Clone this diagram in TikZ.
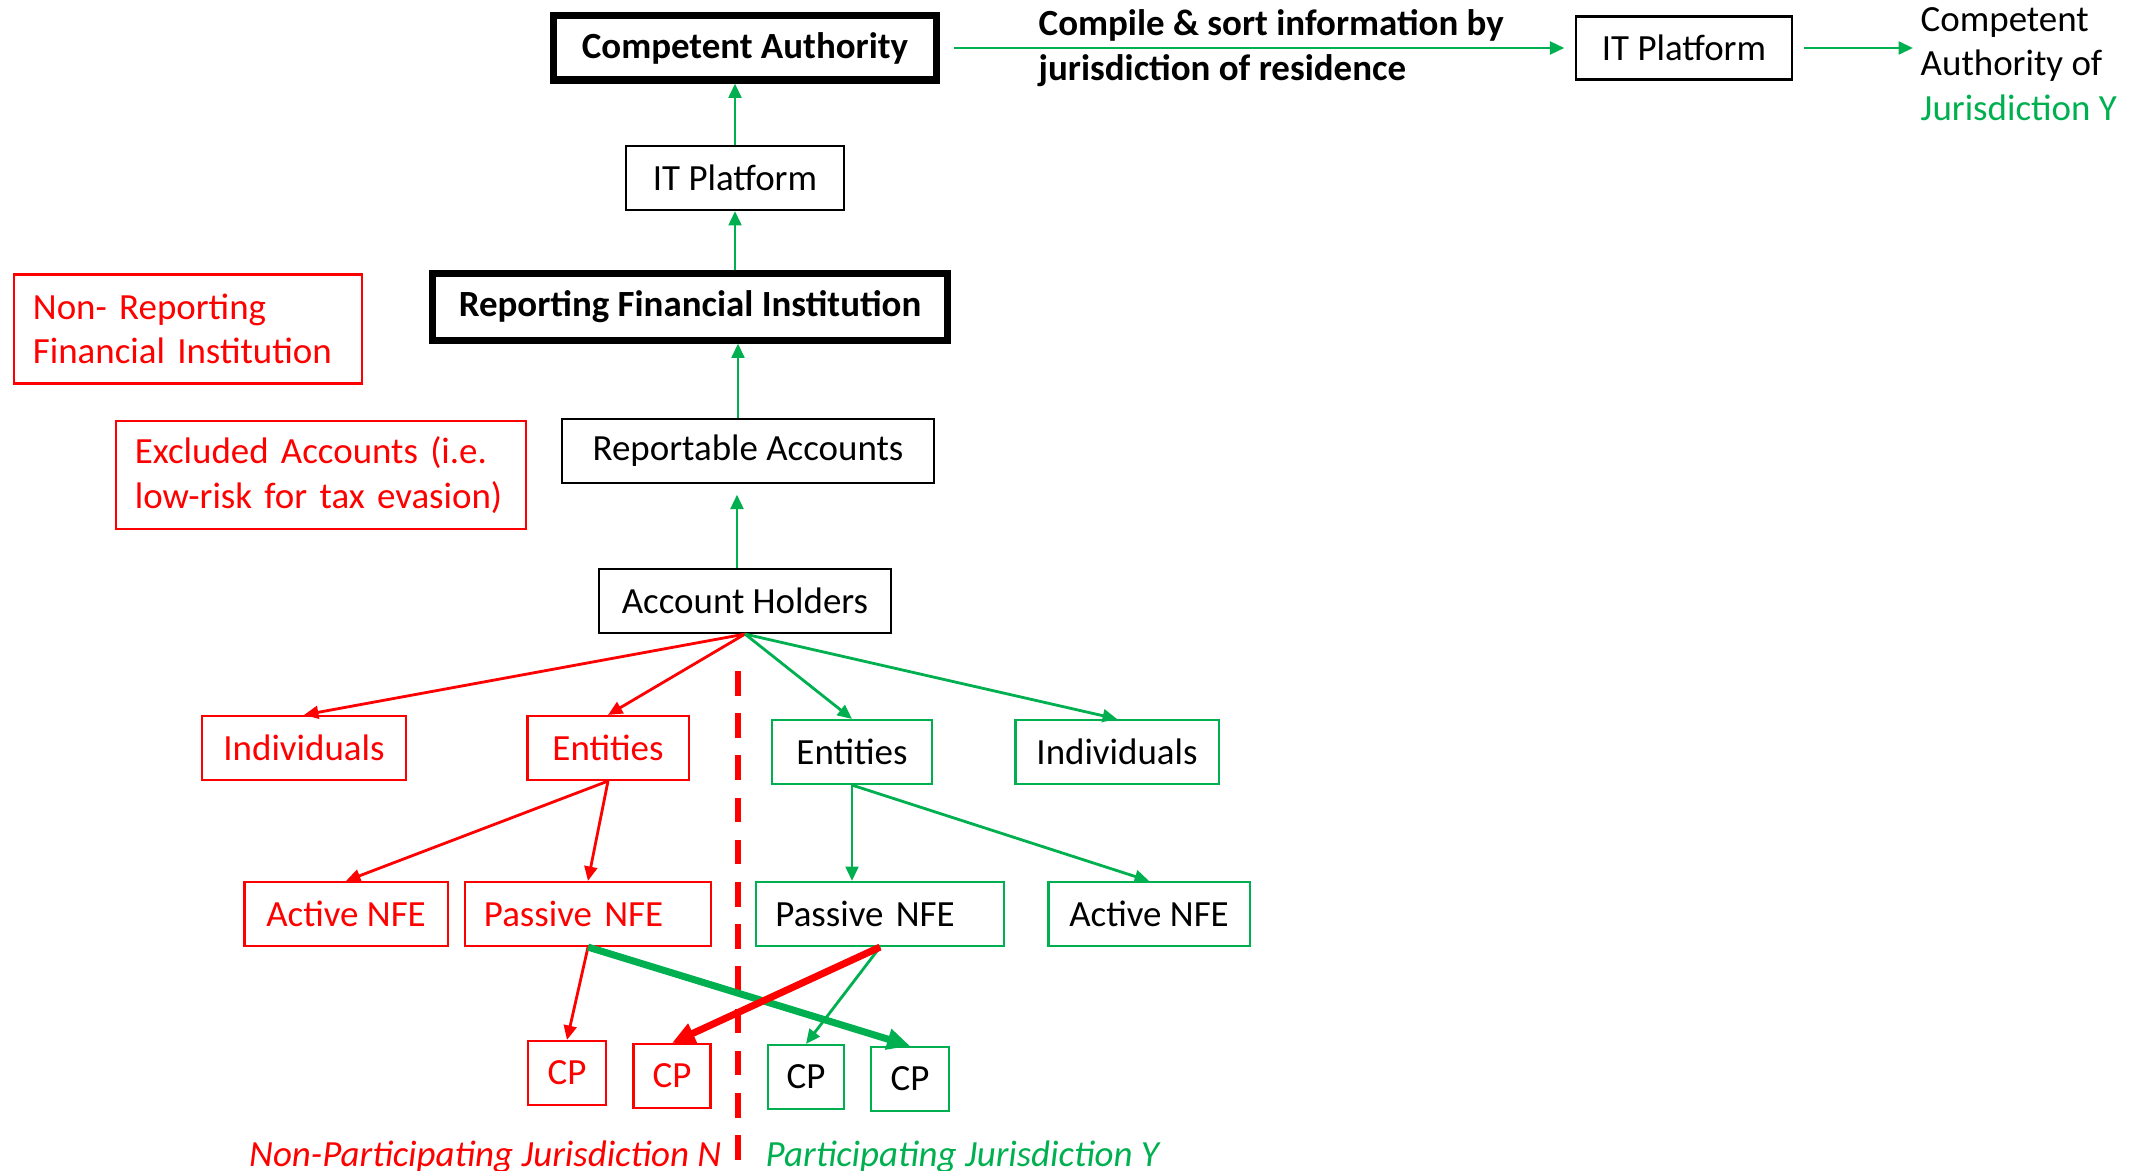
\documentclass[tikz,border=0pt]{standalone}
\usepackage{fontspec}
\setmainfont{Carlito}
\usepackage{tikz}
\usetikzlibrary{arrows.meta}

\definecolor{myred}{RGB}{255,0,0}
\definecolor{mygreen}{RGB}{0,176,80}
\newcommand{\diagfont}{\fontsize{10.5}{12.6}\selectfont}

\begin{document}
\begin{tikzpicture}[x=0.01cm,y=-0.01cm,
    every node/.style={font=\diagfont},
    >={Triangle[length=2.5pt 2,width=2.2pt 1.8]},
    nodebox/.style={draw,line width=0.6pt,minimum height=0.64cm,inner sep=0pt},
    keybox/.style={nodebox,line width=2pt,font=\diagfont\bfseries},
    redbox/.style={nodebox,draw=myred,text=myred},
    greenbox/.style={nodebox,draw=mygreen},
    leftbox/.style={align=left,inner xsep=0.19cm,text width=#1},
    link/.style={->,line width=0.8pt},
    crosslink/.style={->,line width=2pt}]
          \useasboundingbox (0,0) rectangle (2134,1170);

          % reporting chain
          \node[keybox,minimum width=3.82cm] (compauth) at (745,48) {Competent Authority};
          \node[nodebox,minimum width=2.18cm] (itplat) at (735,178) {IT Platform};
          \node[keybox,minimum width=5.14cm,minimum height=0.66cm] (rfi) at (690,307) {Reporting Financial Institution};
          \node[nodebox,minimum width=3.72cm] (repacc) at (748,451) {Reportable Accounts};
          \node[nodebox,minimum width=2.92cm] (accholders) at (745,601) {Account Holders};
          \node[redbox,leftbox=3.10cm,minimum height=1.09cm] (nonrfi) at (188,329) {Non- Reporting\\Financial Institution};
          \node[redbox,leftbox=3.72cm,minimum height=1.08cm] (exclacc) at (321,475) {Excluded Accounts (i.e.\\low-risk for tax evasion)};

          % exchange
          \node[anchor=west,inner sep=0pt,align=left,font=\diagfont\bfseries] (compile) at (1038,48) {Compile \& sort information by\\jurisdiction of residence};
          \node[nodebox,minimum width=2.16cm,minimum height=0.63cm] (itplatY) at (1684,48) {IT Platform};
          \node[anchor=west,inner sep=0pt,align=left] (compauthY) at (1920,64) {Competent\\Authority of\\\textcolor{mygreen}{Jurisdiction Y}};

          % account holders
          \node[redbox,minimum width=2.03cm] (indivN) at (304,748) {Individuals};
          \node[redbox,minimum width=1.61cm] (entN) at (608,748) {Entities};
          \node[greenbox,minimum width=1.60cm] (entY) at (852,752) {Entities};
          \node[greenbox,minimum width=2.03cm] (indivY) at (1117,752) {Individuals};

          \node[redbox,minimum width=2.03cm] (activeN) at (346,914) {Active NFE};
          \node[redbox,leftbox=2.08cm] (passiveN) at (588,914) {Passive NFE};
          \node[greenbox,leftbox=2.09cm] (passiveY) at (880,914) {Passive NFE};
          \node[greenbox,minimum width=2.01cm] (activeY) at (1149,914) {Active NFE};

          \node[redbox,minimum width=0.78cm] (cpNa) at (567,1073) {CP};
          \node[redbox,minimum width=0.77cm] (cpNb) at (672,1076) {CP};
          \node[greenbox,minimum width=0.76cm] (cpYa) at (806,1077) {CP};
          \node[greenbox,minimum width=0.78cm] (cpYb) at (910,1079) {CP};

          \node[anchor=base east,inner sep=0pt,text=myred,font=\diagfont\itshape] (labelN) at (722,1166) {Non-Participating Jurisdiction N};
          \node[anchor=base west,inner sep=0pt,text=mygreen,font=\diagfont\itshape] (labelY) at (765,1166) {Participating Jurisdiction Y};

          % border between jurisdictions
          \coordinate (bordertop) at (738,671);
          \coordinate (borderbot) at (738,1170);
          \draw[myred,line width=1.6pt,dash pattern=on 7pt off 5pt] (bordertop) -- (borderbot);

          % arrows
          \draw[link,mygreen] (itplat.north) -- (itplat.north |- compauth.south);
          \draw[link,mygreen] (itplat.south |- rfi.north) -- (itplat.south);
          \draw[link,mygreen] ([xshift=-0.1cm]repacc.north) -- ([xshift=-0.1cm]repacc.north |- rfi.south);
          \draw[link,mygreen,shorten >=3pt] ([xshift=-0.08cm]accholders.north) -- ([xshift=-0.08cm]accholders.north |- repacc.south);
          \draw[link,mygreen,shorten <=4pt,shorten >=3pt] (compauth.east) -- (itplatY.west);
          \draw[link,mygreen,shorten <=3pt,shorten >=2pt] (itplatY.east) -- (itplatY.east -| compauthY.west);

          \draw[link,myred] (accholders.south) -- (indivN.north);
          \draw[link,myred] (accholders.south) -- (entN.north);
          \draw[link,mygreen] (accholders.south) -- (entY.north);
          \draw[link,mygreen] (accholders.south) -- (indivY.north);

          \draw[link,myred] (entN.south) -- (activeN.north);
          \draw[link,myred] (entN.south) -- (passiveN.north);
          \draw[link,mygreen] (entY.south) -- (entY.south |- passiveY.north);
          \draw[link,mygreen] (entY.south) -- (activeY.north);

          \draw[link,myred] (passiveN.south) -- (cpNa.north);
          \draw[link,mygreen] (passiveY.south) -- (cpYa.north);
          \draw[crosslink,mygreen] (passiveN.south) -- (cpYb.north);
          \draw[crosslink,myred] (passiveY.south) -- (cpNb.north);
        \end{tikzpicture}
\end{document}
